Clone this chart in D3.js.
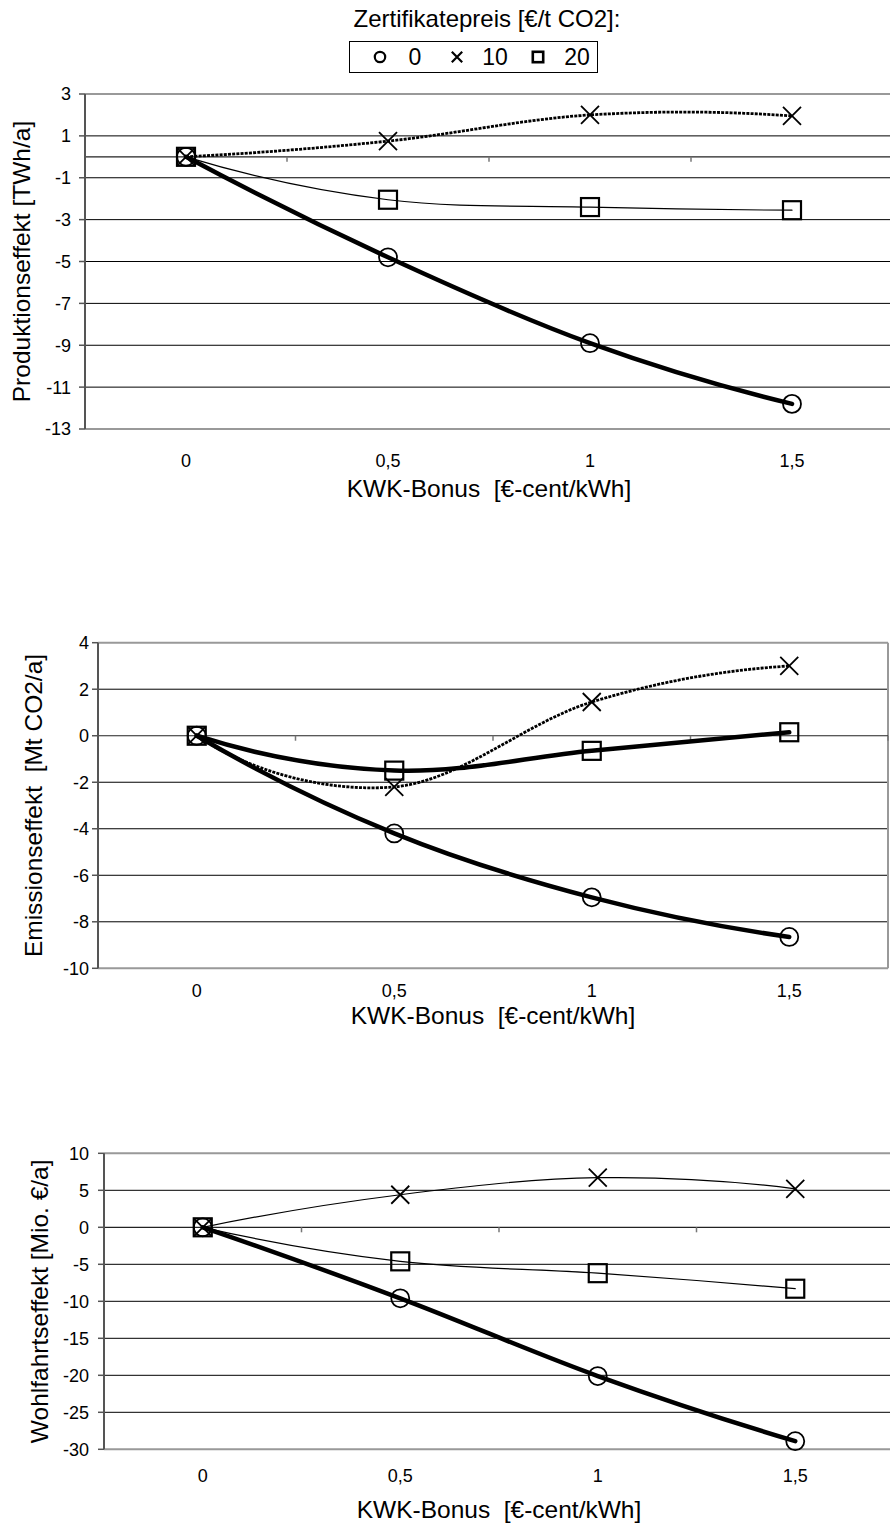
<!DOCTYPE html>
<html><head><meta charset="utf-8">
<script src="https://cdn.jsdelivr.net/npm/d3@7"></script>
<style>
html,body{margin:0;padding:0;background:#fff;}
svg text{font-family:"Liberation Sans",Arial,Helvetica,sans-serif;fill:#000;}
</style></head>
<body>
<script>
// ---------- data ----------
const categories = ["0", "0,5", "1", "1,5"];
const seriesNames = ["0", "10", "20"];
const legendTitle = "Zertifikatepreis [€/t CO2]:";
const xTitle = "KWK-Bonus  [€-cent/kWh]";

// Produktionseffekt [TWh/a]
const prod0  = [0, -4.8, -8.9, -11.8];
const prod10 = [0, 0.75, 2.0, 1.95];
const prod20 = [0, -2.05, -2.4, -2.55];
const prodTicks = [-13, -11, -9, -7, -5, -3, -1, 1, 3];

// Emissionseffekt [Mt CO2/a]
const emis0  = [0, -4.2, -6.95, -8.65];
const emis10 = [0, -2.2, 1.45, 3.0];
const emis20 = [0, -1.5, -0.65, 0.15];
const emisTicks = [-10, -8, -6, -4, -2, 0, 2, 4];

// Wohlfahrtseffekt [Mio. €/a]
const welf0  = [0, -9.6, -20.1, -28.9];
const welf10 = [0, 4.4, 6.7, 5.2];
const welf20 = [0, -4.6, -6.2, -8.3];
const welfTicks = [-30, -25, -20, -15, -10, -5, 0, 5, 10];

// ---------- layout ----------
const W = 890, H = 1529;
const svg = d3.select("body").append("svg").attr("width", W).attr("height", H)
  .attr("viewBox", `0 0 ${W} ${H}`);

// Excel-like smoothed line: Bezier with tangents k*(P[i+1]-P[i-1]),
// end tangents mirrored about the end chord.
function excelCurve(k) {
  return function(context) {
    let pts = [];
    return {
      areaStart() {}, areaEnd() {},
      lineStart() { pts = []; },
      point(x, y) { pts.push([+x, +y]); },
      lineEnd() {
        const n = pts.length;
        if (!n) return;
        context.moveTo(pts[0][0], pts[0][1]);
        if (n === 1) return;
        if (n === 2) { context.lineTo(pts[1][0], pts[1][1]); return; }
        const T = pts.map((p, i) => (i === 0 || i === n - 1) ? null :
          [k * (pts[i + 1][0] - pts[i - 1][0]), k * (pts[i + 1][1] - pts[i - 1][1])]);
        const refl = (t, a, b) => {
          const dx = b[0] - a[0], dy = b[1] - a[1], L = Math.hypot(dx, dy) || 1;
          const ux = dx / L, uy = dy / L, d = t[0] * ux + t[1] * uy;
          return [2 * d * ux - t[0], 2 * d * uy - t[1]];
        };
        T[0] = refl(T[1], pts[0], pts[1]);
        T[n - 1] = refl(T[n - 2], pts[n - 2], pts[n - 1]);
        for (let i = 0; i < n - 1; i++) {
          const a = pts[i], b = pts[i + 1];
          context.bezierCurveTo(a[0] + T[i][0], a[1] + T[i][1],
            b[0] - T[i + 1][0], b[1] - T[i + 1][1], b[0], b[1]);
        }
      }
    };
  };
}

const styles = {
  thick:  {w: 4.5, dash: null},
  thin:   {w: 1.2, dash: null},
  dotted: {w: 2.8, dash: "3 1.2"}
};

const charts = [
  { left: 85, right: 893, top: 94, bottom: 429, domain: [-13, 3], ticks: prodTicks,
    title: "Produktionseffekt [TWh/a]", titleX: 30, labelGap: 14,
    xLabelY: 467, xTitleY: 497, rightBorder: false,
    series: [[prod0, "circle", "thick"], [prod10, "x", "dotted"], [prod20, "square", "thin"]] },
  { left: 98, right: 888, top: 642.7, bottom: 968.3, domain: [-10, 4], ticks: emisTicks,
    title: "Emissionseffekt  [Mt CO2/a]", titleX: 41.5, labelGap: 9,
    xLabelY: 997, xTitleY: 1023.5, rightBorder: true,
    series: [[emis0, "circle", "thick"], [emis10, "x", "dotted"], [emis20, "square", "thick"]] },
  { left: 104, right: 894, top: 1153.3, bottom: 1449.3, domain: [-30, 10], ticks: welfTicks,
    title: "Wohlfahrtseffekt [Mio. €/a]", titleX: 48, labelGap: 15,
    xLabelY: 1482, xTitleY: 1518, rightBorder: false,
    series: [[welf0, "circle", "thick"], [welf10, "x", "thin"], [welf20, "square", "thin"]] }
];

function drawMarker(g, type, x, y, s, sw) {
  if (type === "circle") {
    g.append("circle").attr("cx", x).attr("cy", y).attr("r", s)
      .attr("fill", "none").attr("stroke", "#000").attr("stroke-width", sw);
  } else if (type === "square") {
    g.append("rect").attr("x", x - s).attr("y", y - s).attr("width", 2 * s).attr("height", 2 * s)
      .attr("fill", "none").attr("stroke", "#000").attr("stroke-width", sw + 0.4);
  } else {
    g.append("path").attr("d", `M${x - s},${y - s}L${x + s},${y + s}M${x - s},${y + s}L${x + s},${y - s}`)
      .attr("fill", "none").attr("stroke", "#000").attr("stroke-width", sw);
  }
}

charts.forEach(c => {
  const g = svg.append("g");
  const x = d3.scalePoint().domain(categories).range([c.left, c.right]).padding(0.5);
  const y = d3.scaleLinear().domain(c.domain).range([c.bottom, c.top]);
  const step = x.step();

  // gridlines (interior ticks)
  c.ticks.filter(t => t > c.domain[0] && t < c.domain[1] && t !== 0).forEach(t => {
    g.append("line").attr("x1", c.left).attr("x2", c.right).attr("y1", y(t)).attr("y2", y(t))
      .attr("stroke", "#000").attr("stroke-width", 1);
  });
  // borders
  g.append("line").attr("x1", c.left).attr("x2", c.right).attr("y1", c.top).attr("y2", c.top)
    .attr("stroke", "#999").attr("stroke-width", 2);
  g.append("line").attr("x1", c.left).attr("x2", c.right).attr("y1", c.bottom).attr("y2", c.bottom)
    .attr("stroke", "#999").attr("stroke-width", 2);
  if (c.rightBorder) {
    g.append("line").attr("x1", c.right).attr("x2", c.right).attr("y1", c.top).attr("y2", c.bottom)
      .attr("stroke", "#999").attr("stroke-width", 2);
  }
  // category axis at value 0
  const y0 = y(0);
  g.append("line").attr("x1", c.left).attr("x2", c.right).attr("y1", y0).attr("y2", y0)
    .attr("stroke", "#222").attr("stroke-width", 1.2);
  categories.forEach((cat, i) => {
    if (i === 0) return;
    const bx = x(cat) - step / 2;
    g.append("line").attr("x1", bx).attr("x2", bx).attr("y1", y0).attr("y2", y0 + 5)
      .attr("stroke", "#777").attr("stroke-width", 1.5);
  });
  const lastB = x(categories[categories.length - 1]) + step / 2;
  g.append("line").attr("x1", lastB).attr("x2", lastB).attr("y1", y0).attr("y2", y0 + 5)
    .attr("stroke", "#777").attr("stroke-width", 1.5);

  // value axis
  g.append("line").attr("x1", c.left).attr("x2", c.left).attr("y1", c.top).attr("y2", c.bottom)
    .attr("stroke", "#555").attr("stroke-width", 2);
  c.ticks.forEach(t => {
    g.append("line").attr("x1", c.left - 6).attr("x2", c.left).attr("y1", y(t)).attr("y2", y(t))
      .attr("stroke", "#555").attr("stroke-width", 1.5);
    g.append("text").attr("x", c.left - c.labelGap).attr("y", y(t)).attr("dy", "0.36em")
      .attr("text-anchor", "end").attr("font-size", 18).text(String(t));
  });
  // category labels
  categories.forEach(cat => {
    g.append("text").attr("x", x(cat)).attr("y", c.xLabelY).attr("text-anchor", "middle")
      .attr("font-size", 18).text(cat);
  });
  // titles
  g.append("text").attr("x", (c.left + c.right) / 2).attr("y", c.xTitleY)
    .attr("text-anchor", "middle").attr("font-size", 24.5).attr("xml:space", "preserve").text(xTitle);
  g.append("text").attr("transform", `translate(${c.titleX},${(c.top + c.bottom) / 2}) rotate(-90)`)
    .attr("text-anchor", "middle").attr("font-size", 24.5).attr("xml:space", "preserve").text(c.title);

  // lines
  const line = d3.line().x((d, i) => x(categories[i])).y(d => y(d)).curve(excelCurve(1 / 6));
  c.series.forEach(([vals, mk, st]) => {
    const s = styles[st];
    const p = g.append("path").attr("d", line(vals)).attr("fill", "none").attr("stroke", "#000")
      .attr("stroke-width", s.w).attr("stroke-linejoin", "round").attr("stroke-linecap", "round");
    if (s.dash) p.attr("stroke-dasharray", s.dash).attr("stroke-linecap", "butt");
  });
  // markers
  c.series.forEach(([vals, mk]) => {
    vals.forEach((v, i) => drawMarker(g, mk, x(categories[i]), y(v), 9, 1.8));
  });
});

// ---------- legend ----------
const lg = svg.append("g");
lg.append("text").attr("x", 487).attr("y", 27).attr("text-anchor", "middle")
  .attr("font-size", 24).text(legendTitle);
lg.append("rect").attr("x", 349.5).attr("y", 41.5).attr("width", 248).attr("height", 31)
  .attr("fill", "#fff").attr("stroke", "#000").attr("stroke-width", 1);
const legendMarks = ["circle", "x", "square"];
const legSymX = [380, 457, 538];
const legTxtX = [415, 495, 577];
seriesNames.forEach((nm, i) => {
  drawMarker(lg, legendMarks[i], legSymX[i], 57, 5.2, 2.2);
  lg.append("text").attr("x", legTxtX[i]).attr("y", 65).attr("text-anchor", "middle")
    .attr("font-size", 23).text(nm);
});
</script>
</body></html>
